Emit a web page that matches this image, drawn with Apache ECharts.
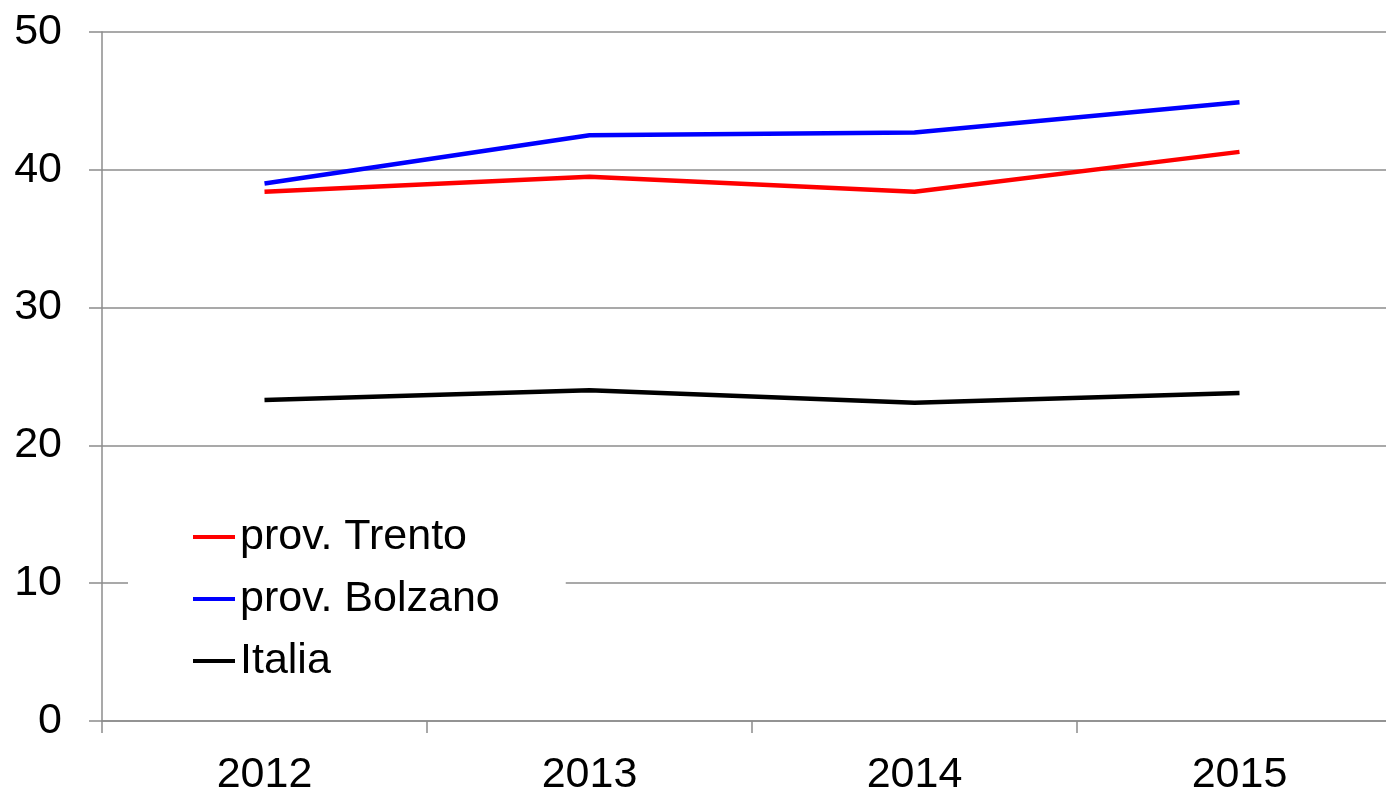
<!DOCTYPE html>
<html>
<head>
<meta charset="utf-8">
<script src="https://cdn.jsdelivr.net/npm/echarts@6/dist/echarts.min.js"></script>
<style>
  html, body { margin: 0; padding: 0; background: #fff; }
  #main { width: 1386px; height: 794px; }
</style>
</head>
<body>
<div id="main"></div>
<script>
// dati
var anni = ['2012', '2013', '2014', '2015'];
var trento = [38.4, 39.5, 38.4, 41.3];
var bolzano = [39.0, 42.5, 42.7, 44.9];
var italia = [23.3, 24.0, 23.1, 23.8];
var yTicks = [0, 10, 20, 30, 40, 50];

var myChart = echarts.init(document.getElementById('main'));

var axisGray = '#8c8c8c';
var font = 'Liberation Sans, Arial, sans-serif';

function serie(nome, dati, colore) {
    return {
        name: nome,
        type: 'line',
        data: dati,
        symbol: 'none',
        lineStyle: { color: colore, width: 4.5 },
        itemStyle: { color: colore }
    };
}

var option = {
    animation: false,
    backgroundColor: '#fff',
    // la griglia esce un po' a destra, come nell'originale
    grid: { left: 102, top: 32, width: 1300, height: 689, outerBoundsMode: 'none' },
    legend: {
        orient: 'vertical',
        left: 128,
        top: 494,
        padding: [18, 66, 22, 65],
        backgroundColor: '#fff',
        icon: 'rect',
        itemWidth: 42,
        itemHeight: 4,
        itemGap: 12,
        itemTextGap: 1,
        textStyle: { fontSize: 43, fontFamily: font, color: '#000', lineHeight: 50 },
        data: ['prov. Trento', 'prov. Bolzano', 'Italia']
    },
    xAxis: {
        type: 'category',
        data: anni,
        boundaryGap: true,
        axisLine: { lineStyle: { color: axisGray, width: 1.5 } },
        axisTick: { show: true, length: 12, lineStyle: { color: axisGray, width: 1.5 } },
        axisLabel: { fontSize: 43, fontFamily: font, color: '#000', margin: 33 },
        splitLine: { show: false }
    },
    yAxis: {
        type: 'value',
        min: yTicks[0],
        max: yTicks[yTicks.length - 1],
        interval: 10,
        axisLine: { show: true, lineStyle: { color: axisGray, width: 1.5 } },
        axisTick: { show: true, length: 13, lineStyle: { color: axisGray, width: 1.5 } },
        axisLabel: { fontSize: 43, fontFamily: font, color: '#000', margin: 40 },
        splitLine: { lineStyle: { color: axisGray, width: 1.5 } }
    },
    series: [
        serie('prov. Trento', trento, '#ff0000'),
        serie('prov. Bolzano', bolzano, '#0000ff'),
        serie('Italia', italia, '#000000')
    ]
};

myChart.setOption(option);
</script>
</body>
</html>
